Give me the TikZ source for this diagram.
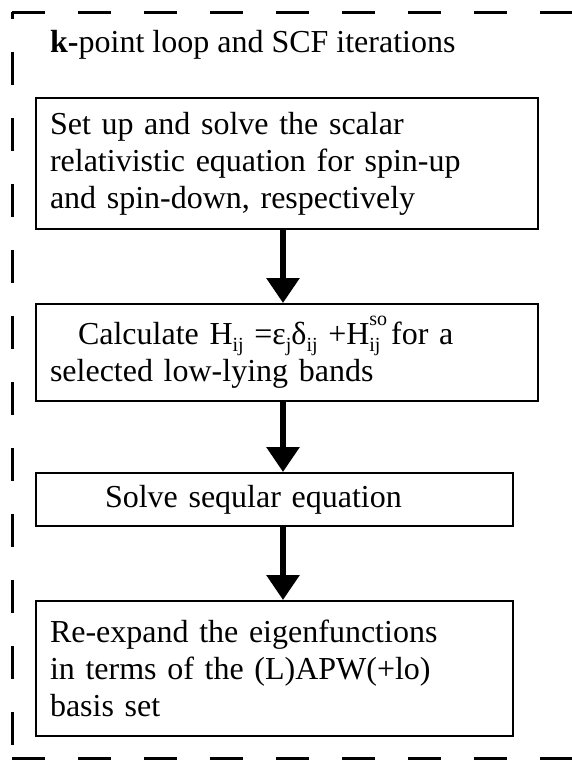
\documentclass[tikz,border=0pt]{standalone}
\usepackage{fontspec}
\setmainfont{Liberation Serif}
\usetikzlibrary{arrows.meta}
% small lowered / raised text for the indices
\newcommand{\idxlo}[1]{\raisebox{-0.2em}{\fontsize{20}{20}\selectfont #1}}
\newcommand{\idxhi}[1]{\raisebox{0.6em}{\fontsize{20}{20}\selectfont #1}}
\tikzset{
  frameline/.style={line width=3pt, dash pattern=on 33pt off 33pt},
  stepbox/.style={draw, line width=2pt, anchor=north west, align=left,
    inner xsep=14pt, inner ysep=0pt, font=\fontsize{32}{37}\selectfont},
  flow/.style={line width=6pt, -{Triangle[length=25pt,width=32pt]}},
}
\begin{document}
\begin{tikzpicture}[x=1pt,y=-1pt]
\useasboundingbox (0,0) rectangle (572,763);
% dashed loop frame (right side lies beyond the page)
\begin{scope}
\clip (0,0) rectangle (572,763);
\draw[frameline] (12,12) -- (580,12);
\draw[frameline, dash phase=26pt] (12,12) -- (12,758);
\draw[frameline] (12,758) -- (580,758);
\end{scope}
\node[anchor=west, font=\fontsize{32}{37}\selectfont, inner sep=0pt] (title) at (50,45)
  {\textbf{k-}point loop and SCF iterations};
% process steps
\node[stepbox, minimum width=502pt, minimum height=131pt, text width=474pt] (b1) at (35,97)
  {Set up and solve the scalar\\relativistic equation for spin-up\\and spin-down, respectively};
\node[stepbox, minimum width=502pt, minimum height=97pt, text width=474pt] (b2) at (35,303)
  {\hspace*{28pt}Calculate H\idxlo{ij} =ε\idxlo{j}δ\idxlo{ij} +H\rlap{\idxhi{so}}\idxlo{ij} for a\\selected low-lying bands};
\node[stepbox, minimum width=477pt, minimum height=53pt, text width=449pt] (b3) at (35,472)
  {\hspace*{55pt}Solve seqular equation};
\node[stepbox, minimum width=477pt, minimum height=135pt, text width=449pt] (b4) at (35,600)
  {Re-expand the eigenfunctions\\in terms of the (L)APW(+lo)\\basis set};
% arrows between the steps
\coordinate (axis) at (283,0);
\draw[flow] (b1.south -| axis) -- (b2.north -| axis);
\draw[flow] (b2.south -| axis) -- (b3.north -| axis);
\draw[flow] (b3.south -| axis) -- (b4.north -| axis);
\end{tikzpicture}
\end{document}
